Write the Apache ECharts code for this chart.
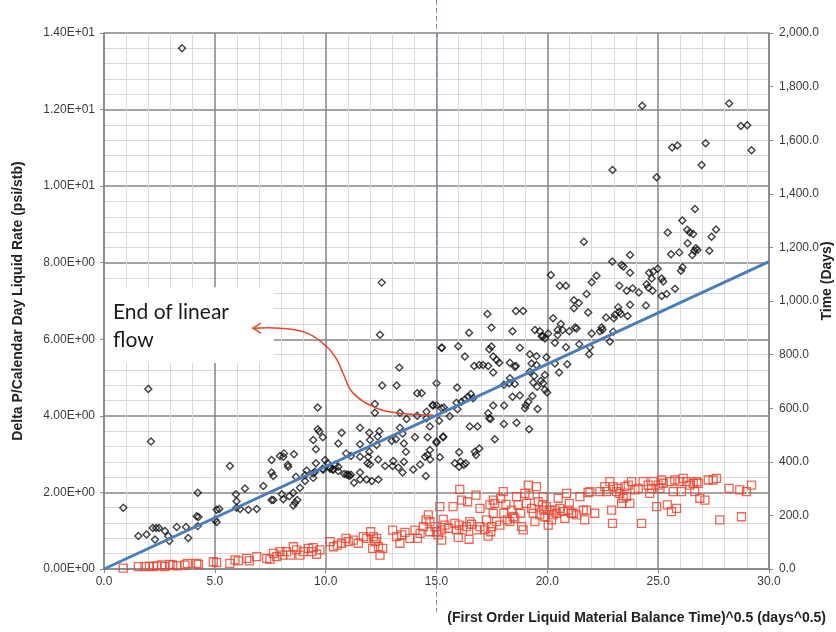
<!DOCTYPE html>
<html>
<head>
<meta charset="utf-8">
<script src="https://cdn.jsdelivr.net/npm/echarts@6/dist/echarts.min.js"></script>
<style>
html,body{margin:0;padding:0;background:#fff;}
#chart{width:836px;height:632px;}
</style>
</head>
<body>
<div id="chart"></div>
<script>
// ---- Data ----
// Black diamonds: Delta P / calendar-day liquid rate (psi/stb) vs sqrt(material balance time)
const dpRate = [
[3.52,13.6],[0.87,1.6],[2.0,4.70],[2.12,3.33],[12.53,7.48],[12.45,6.12],
[1.55,0.86],[1.92,0.9],[2.2,1.07],[2.35,1.07],[2.48,1.07],[2.75,0.99],[2.3,0.77],[2.9,0.86],[2.95,0.73],[3.28,1.1],[3.7,1.1],[3.8,0.81],[4.23,1.12],[4.18,1.38],[4.26,1.36],[4.23,1.99],
[5.08,1.55],[5.2,1.57],[5.0,1.28],[5.08,1.23],[5.95,1.95],[5.98,1.77],[5.98,1.6],[6.14,1.57],[6.51,1.55],[6.89,1.57],[6.36,2.10],[5.68,2.69],[7.19,2.17],[7.56,1.80],[7.64,1.80],[8.02,1.95],[8.09,1.82],[8.36,1.90],[8.54,1.99],[8.84,2.12],[9.07,2.30],[8.54,1.66],[8.62,1.73],[8.72,1.80],[9.44,2.38],[9.44,2.50],[9.86,2.62],[10.2,2.65],[10.35,2.60],[10.57,2.56],[10.95,2.47],[11.07,2.43],[11.28,2.25],[11.55,2.34],[11.85,2.34],[12.08,2.30],[12.38,2.34],
[12.68,2.69],[13.02,2.69],[13.28,2.65],[13.47,2.52],[13.53,2.80],[13.95,2.60],[14.26,2.73],[14.71,2.86],
[7.56,2.52],[7.64,2.43],[7.56,2.85],[7.94,2.95],
[15.23,5.78],[13.32,5.26],[12.55,4.79],[13.2,4.79],[15.0,4.85],[14.13,4.59],[14.33,4.59],[9.64,4.22],[12.22,4.31],[12.22,4.08],[13.35,4.08],[14.55,4.11],[14.85,4.28],[15.23,4.2],[13.65,3.92],[14.13,4.0],
[9.64,3.65],[9.71,3.59],[9.87,3.44],[9.44,3.37],[9.56,3.13],[10.72,3.56],[11.55,3.69],[11.97,3.56],[12.42,3.6],[12.35,3.46],[12.0,3.37],[11.55,3.26],[11.97,3.06],[12.3,3.24],[10.57,3.28],[13.35,3.69],[13.47,3.54],[12.98,3.35],[13.17,3.39],[13.53,3.28],[13.62,3.06],[14.03,3.44],[14.6,3.44],[14.55,3.94],[14.7,3.72],[15.0,3.33],[15.3,3.46],[14.6,2.98],[14.48,2.93],[14.52,2.43],
[10.92,3.02],[11.14,2.95],[11.55,2.93],[11.92,2.93],[11.89,2.76],[12.0,2.73],[12.37,2.86],[13.05,2.82],[10.84,2.48],[11.02,2.46],[11.14,2.46],[11.55,2.52],[9.97,2.85],[10.09,2.76],[9.89,2.59],[10.42,2.72],[10.2,2.62],[10.31,2.6],[10.57,2.67],[9.56,2.76],[9.52,2.54],[9.14,2.57],[9.07,2.45],[8.66,2.41],[8.29,2.72],[8.12,3.02],[8.09,2.93],[8.57,3.0],[8.31,2.67],
[20.16,7.68],[20.56,7.40],[20.84,7.40],[22.0,7.49],[22.22,7.66],[21.77,7.18],[21.2,7.02],[21.42,6.95],[21.2,6.81],[21.84,6.70],[17.3,6.66],[18.58,6.74],[18.91,6.74],[17.48,6.31],[16.47,6.17],[18.43,6.21],[20.26,6.55],[20.61,6.40],[20.46,6.24],[20.69,6.24],[20.99,6.21],[21.32,6.28],[19.44,6.24],[19.66,6.21],[19.81,6.08],[19.89,6.02],[20.04,6.15],[19.74,6.08],[20.46,6.11],[20.34,5.91],[22.0,6.15],[22.37,6.21],[21.92,5.79],[21.89,5.61],[21.44,5.87],[20.84,5.79],[20.9,5.35],[20.53,5.13],[20.34,5.37],[19.96,5.53],
[15.24,5.78],[15.98,5.82],[16.28,5.55],[16.7,5.30],[16.93,5.33],[17.1,5.33],[17.33,5.30],[17.38,5.74],[17.48,5.81],[17.56,5.55],[17.71,5.46],[17.83,5.39],[17.56,5.13],[18.31,5.39],[18.53,5.28],[18.58,5.30],[18.76,5.78],[19.21,5.61],[19.29,5.37],[19.51,5.56],[19.21,5.15],[19.51,5.33],[19.41,5.04],[19.36,4.87],[19.54,4.76],[19.89,5.07],[19.81,4.85],[19.89,4.68],[19.99,4.61],[19.71,4.92],[18.31,4.98],[18.04,4.81],[18.28,4.85],[18.53,4.83],[18.43,4.50],[18.76,4.53],[19.33,4.52],[18.05,4.27],[17.56,4.27],[19.03,4.28],[19.14,4.37],[19.56,4.18],[18.99,4.20],[18.61,3.82],[19.18,3.65],[18.04,3.79],[17.63,3.39],[17.38,3.94],[17.33,4.07],[17.44,3.92],[16.5,3.72],[16.85,3.72],
[15.93,4.74],[14.82,4.28],[15.0,4.28],[15.33,4.22],[15.9,4.34],[15.95,4.17],[16.13,4.37],[16.28,4.43],[16.43,4.50],[16.55,4.57],[16.65,4.46],[15.6,3.99],[15.12,3.87],[15.3,3.44],[15.0,3.30],[15.15,2.92],[14.7,3.11],[16.02,3.05],[15.83,2.76],[16.08,2.80],[16.23,2.72],[16.32,2.76],[16.02,2.67],[16.73,3.06],[16.93,3.15],[16.78,2.98],
[26.66,9.40],[26.09,9.10],[25.43,8.79],[26.31,8.86],[26.43,8.79],[26.58,8.75],[27.61,8.87],[27.41,8.68],[26.33,8.51],[26.7,8.38],[26.77,8.33],[26.63,8.31],[26.54,8.20],[27.31,8.31],[25.58,8.22],[25.95,8.27],[21.65,8.55],[23.73,8.2],[22.93,8.03],[23.35,7.94],[23.43,7.90],[23.73,7.74],[24.98,7.84],[24.78,7.77],[24.59,7.74],[24.71,7.59],[24.48,7.44],[24.55,7.35],[24.75,7.27],[25.16,7.59],[25.23,7.51],[25.16,7.13],[25.38,7.18],[25.76,7.32],[26.03,7.79],[26.1,7.88],
[23.25,7.40],[23.58,7.27],[23.85,7.33],[24.13,7.22],[23.73,6.90],[24.45,6.88],[23.2,6.84],[23.25,6.72],[23.05,6.64],[23.32,6.66],[23.62,6.61],[22.65,6.57],[23.0,6.55],[21.25,6.31],[22.45,6.31],[22.82,5.94],[22.97,6.2],[22.49,6.25],
[24.28,12.1],[28.2,12.16],[28.73,11.57],[29.02,11.59],[29.21,10.94],[25.63,11.01],[25.87,11.06],[27.14,11.12],[26.96,10.55],[22.94,10.42],[24.93,10.23]
];
// Red squares: time (days) on the right axis
const timeDays = [
[0.87,3],[1.55,9],[1.85,9],[2.05,11],[2.23,9],[2.38,12],[2.6,15],[2.75,9],[2.98,17],[3.1,15],[3.28,12],[3.65,15],[3.76,21],[4.18,21],[4.26,17],[4.93,27],[5.08,24],[5.68,21],[5.91,34],[6.06,30],[6.44,40],[6.56,30],[6.89,46],[7.34,40],[7.49,36],[7.64,58],[7.79,46],[7.94,65],[8.06,52],[8.24,65],[8.42,52],[8.54,83],[8.69,71],[8.84,52],[8.99,65],[9.22,77],[9.37,65],[9.44,80],[9.59,55],[9.74,71],
[10.2,102],[10.35,83],[10.53,89],[10.72,96],[10.92,114],[11.02,102],[11.25,108],[11.47,96],[11.7,121],[11.85,114],[12.03,139],[12.15,121],[12.23,102],[12.3,114],[12.38,83],[12.45,52],[12.57,77],[12.12,77],[13.02,145],[13.2,121],[13.35,96],[13.43,127],[13.58,137],[13.8,114],[14.03,145],[14.14,114],[14.26,133],[14.41,158],[14.53,183],[14.63,202],
[14.70,177],[14.70,139],[14.93,158],[15.0,139],[15.08,127],[15.23,108],[15.23,146],[15.3,185],[15.15,233],[15.38,164],[15.53,152],[15.75,233],[15.83,170],[15.9,146],[15.98,118],[16.02,164],[16.05,297],[16.13,257],[16.17,146],[16.35,158],[16.4,251],[16.47,111],[16.5,177],[16.58,167],[16.78,276],[16.81,146],[16.96,226],[16.96,158],[17.18,146],[17.26,183],[17.41,239],[17.33,123],[17.45,139],[17.48,158],[17.56,257],[17.56,208],[17.71,177],[17.63,245],[17.86,164],[17.9,264],
[18.01,289],[18.04,208],[18.13,241],[18.19,183],[18.31,177],[18.38,220],[18.46,195],[18.53,189],[18.61,270],[18.68,239],[18.79,208],[18.84,158],[18.91,146],[18.99,282],[19.14,313],[19.06,245],[19.18,276],[19.29,226],[19.36,208],[19.44,177],[19.51,307],[19.59,251],[19.66,202],[19.78,239],[19.81,270],[19.84,220],[19.89,195],[19.96,233],
[20.04,164],[20.11,220],[20.19,183],[20.26,202],[20.34,220],[20.41,208],[20.49,264],[20.56,226],[20.72,214],[20.79,189],[20.87,282],[20.94,220],[20.99,245],[21.09,208],[21.17,208],[21.32,202],[21.47,270],[21.62,220],[21.69,183],[21.77,220],[21.84,285],[21.92,289],[22.14,208],[22.37,289],[22.59,307],[22.67,289],[22.82,326],[22.9,220],[22.94,170],[22.97,307],
[23.12,289],[23.2,301],[23.27,282],[23.35,245],[23.42,264],[23.5,307],[23.57,270],[23.65,313],[23.72,245],[23.8,326],[23.95,295],[24.1,301],[24.25,170],[24.32,326],[24.55,313],[24.7,301],[24.62,282],[24.77,326],[24.93,233],[25.0,313],[25.08,301],[25.15,332],[25.23,320],[25.41,239],[25.53,326],[25.6,214],[25.68,289],[25.83,226],[25.75,332],[25.98,326],
[26.05,289],[26.13,338],[26.28,326],[26.43,313],[26.58,320],[26.65,289],[26.73,326],[26.81,320],[26.88,264],[27.11,257],[27.26,332],[27.48,332],[27.63,338],[27.78,183],[28.2,301],[28.68,295],[28.76,195],[28.98,289],[29.21,313]
];
// Straight-line fit through the linear-flow period
const linearFit = [[0,0],[30,8.03]];
// End-of-linear-flow marker (x value) and annotation
const endLinearX = 15;
const annotationLines = ['End of linear', 'flow'];
// Axes
const xTicks = {min:0, max:30, interval:5};
const yLeftTicks = {min:0, max:14, interval:2};
const yRightTicks = {min:0, max:2000, interval:200};

function sci(v){
  if (v === 0) return '0.00E+00';
  const e = Math.floor(Math.log10(Math.abs(v)));
  const m = v / Math.pow(10, e);
  return m.toFixed(2) + 'E' + (e < 0 ? '-' : '+') + String(Math.abs(e)).padStart(2, '0');
}
function thousands(v){
  return v.toLocaleString('en-US', {minimumFractionDigits:1, maximumFractionDigits:1});
}

const FONT = '"Liberation Sans", Arial, sans-serif';
const chart = echarts.init(document.getElementById('chart'), null, {renderer:'canvas'});
const majorLine = {show:true, lineStyle:{color:'#858585', width:1.5}};
const minorLine = {show:true, lineStyle:{color:'#ddd7d7', width:1}};
const axisLabelStyle = {color:'#3a3a3a', fontFamily:FONT, fontSize:12};

chart.setOption({
  animation:false,
  backgroundColor:'#ffffff',
  grid:{left:104, top:33, width:665, height:536, containLabel:false, outerBoundsMode:'none'},
  xAxis:{
    type:'value', min:xTicks.min, max:xTicks.max, interval:xTicks.interval,
    name:'(First Order Liquid Material Balance Time)^0.5 (days^0.5)',
    nameLocation:'end', nameGap:0,
    nameTextStyle:{fontFamily:FONT, fontSize:14, fontWeight:'bold', color:'#222', align:'right', verticalAlign:'top', padding:[42,-57,0,0]},
    axisLine:{show:true, onZero:false, lineStyle:{color:'#868686', width:1.5}},
    axisTick:{show:true, length:4, lineStyle:{color:'#868686'}},
    axisLabel:Object.assign({margin:7, formatter:v=>v.toFixed(1)}, axisLabelStyle),
    splitLine:majorLine,
    minorTick:{show:false, splitNumber:5},
    minorSplitLine:minorLine
  },
  yAxis:[{
    type:'value', min:yLeftTicks.min, max:yLeftTicks.max, interval:yLeftTicks.interval,
    name:'Delta P/Calendar Day Liquid Rate (psi/stb)',
    nameLocation:'middle', nameGap:79,
    nameTextStyle:{fontFamily:FONT, fontSize:14, fontWeight:'bold', color:'#222'},
    axisLine:{show:true, onZero:false, lineStyle:{color:'#868686', width:1.5}},
    axisTick:{show:true, length:4, lineStyle:{color:'#868686'}},
    axisLabel:Object.assign({margin:9, formatter:sci}, axisLabelStyle),
    splitLine:majorLine,
    minorTick:{show:false, splitNumber:5},
    minorSplitLine:minorLine
  },{
    type:'value', position:'right', min:yRightTicks.min, max:yRightTicks.max, interval:yRightTicks.interval,
    name:'Time (Days)',
    nameLocation:'middle', nameGap:51, nameRotate:90, nameMoveOverlap:false,
    nameTextStyle:{fontFamily:FONT, fontSize:14, fontWeight:'bold', color:'#222', padding:[0,0,0,40]},
    axisLine:{show:true, onZero:false, lineStyle:{color:'#868686', width:1.5}},
    axisTick:{show:true, length:4, lineStyle:{color:'#868686'}},
    axisLabel:Object.assign({margin:10, formatter:thousands}, axisLabelStyle),
    splitLine:{show:false}
  }],
  series:[{
    name:'Delta P/Rate', type:'scatter', yAxisIndex:0, data:dpRate,
    symbol:'diamond', symbolSize:7,
    itemStyle:{color:'rgba(255,255,255,0)', borderColor:'#111111', borderWidth:1.4},
    z:3
  },{
    name:'Time', type:'scatter', yAxisIndex:1, data:timeDays,
    symbol:'rect', symbolSize:8,
    itemStyle:{color:'rgba(255,255,255,0)', borderColor:'#e8412c', borderWidth:1.3},
    z:3
  },{
    name:'Linear fit', type:'line', yAxisIndex:0, data:linearFit,
    showSymbol:false, symbol:'none',
    lineStyle:{color:'#4a7ebb', width:3},
    z:4
  }]
});

function drawOverlay(){
  const P = (x,y)=>chart.convertToPixel({xAxisIndex:0, yAxisIndex:0}, [x,y]);
  const dashTop = P(endLinearX, yLeftTicks.max);
  const dashBot = P(endLinearX, yLeftTicks.min);
  const boxTL = P(0, 7.36), boxBR = P(7.62, 5.38);
  const arrowPath = [[14.84,4.02],[13.35,4.07],[12.31,4.20],[11.23,4.60],[10.78,5.12],[10.51,5.46],[10.06,5.80],[9.16,6.16],[7.94,6.29],[6.72,6.29]].map(p=>P(p[0],p[1]));
  const tip = arrowPath[arrowPath.length-1];
  chart.setOption({graphic:[
    {type:'line', z:10, shape:{x1:dashTop[0], y1:dashTop[1]-33, x2:dashBot[0], y2:dashBot[1]+43},
      style:{stroke:'#6f8fc4', lineWidth:1, lineDash:[5,3]}},
    {type:'rect', z:10, shape:{x:boxTL[0]+1, y:boxTL[1], width:boxBR[0]-boxTL[0], height:boxBR[1]-boxTL[1]},
      style:{fill:'#ffffff'}},
    {type:'text', z:11, x:boxTL[0]+9, y:boxTL[1]+11,
      style:{text:annotationLines.join('\n'), font:'21px Lato, "Open Sans", sans-serif', fill:'#1a1a1a', lineHeight:28}},
    {type:'polyline', z:11, shape:{points:arrowPath, smooth:0.4}, style:{stroke:'#e3472f', lineWidth:1.5, fill:null}},
    {type:'polyline', z:11, shape:{points:[[tip[0]+8,tip[1]-5],[tip[0],tip[1]],[tip[0]+8,tip[1]+5]]}, style:{stroke:'#e3472f', lineWidth:1.5, fill:null}}
  ]});
}
drawOverlay();
</script>
</body>
</html>
